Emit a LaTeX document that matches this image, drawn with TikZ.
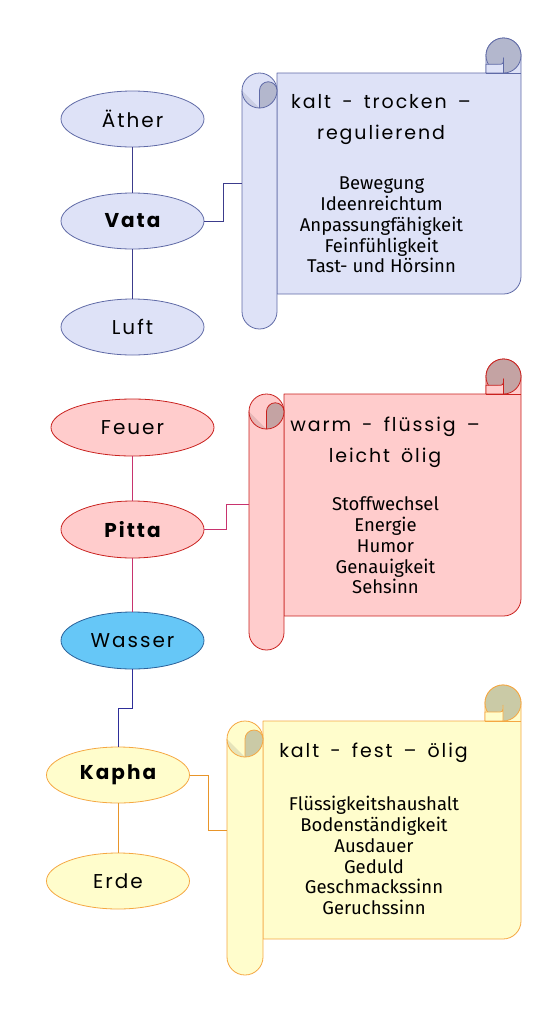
\documentclass[tikz,border=0pt]{standalone}
\usepackage{fontspec}
\setmainfont{Fira Sans}
\newfontfamily\handfont{Poppins}[LetterSpace=10,WordSpace=1.6]
\usetikzlibrary{shapes.geometric,calc}
\definecolor{vfill}{HTML}{DEE2F7}
\definecolor{vdraw}{HTML}{5F6AA6}
\definecolor{vline}{HTML}{3C3C8C}
\definecolor{vdark}{HTML}{B3B7CD}
\definecolor{vlight}{HTML}{CACEE4}
\definecolor{pfill}{HTML}{FFCCCC}
\definecolor{pdraw}{HTML}{C9211E}
\definecolor{pline}{HTML}{C8336E}
\definecolor{pdark}{HTML}{C4A3A3}
\definecolor{plight}{HTML}{E6B6B6}
\definecolor{wfill}{HTML}{66C7F7}
\definecolor{wdraw}{HTML}{2A6099}
\definecolor{wline}{HTML}{2E2E99}
\definecolor{kfill}{HTML}{FFFDCC}
\definecolor{kdraw}{HTML}{F5A742}
\definecolor{kline}{HTML}{E8952A}
\definecolor{kdark}{HTML}{CACAA6}
\definecolor{klight}{HTML}{E6E4BA}
\newcommand\scrollshape[6]{%
 \pgfmathsetmacro\sL{#1}\pgfmathsetmacro\sR{#2}\pgfmathsetmacro\sRt{#3}%
 \pgfmathsetmacro\sB{#4}\pgfmathsetmacro\sBl{#5}\pgfmathsetmacro\sr{#6}%
 \pgfmathsetmacro\sT{\sRt+2*\sr}%
 \pgfmathsetmacro\sLr{\sL+2*\sr}%
 \pgfmathsetmacro\sc{\sL+\sr}%
 \pgfmathsetmacro\sRc{\sR-\sr}%
 \pgfmathsetmacro\sRl{\sR-2*\sr}%
 \pgfmathsetmacro\sRy{\sRt+\sr}%
 \pgfmathsetmacro\sh{\sr/2}%
 % body
 \filldraw[fill=sf,draw=sd,scrl] ({\sLr},{\sT}) -- ({\sRl},{\sT}) -- ({\sRl},{\sRy})
   arc[start angle=180,end angle=360,radius=\sr] -- ({\sR},{\sB-\sr})
   arc[start angle=0,end angle=90,radius=\sr] -- ({\sLr},{\sB}) -- cycle;
 % right curl
 \filldraw[fill=sk,draw=sd,scrl] ({\sRc},{\sRy}) circle[radius=\sr];
 \filldraw[fill=sf,draw=sd,scrl] ({\sRl},{\sT}) -- ({\sRl},{\sRy+\sh})
   -- ({\sRc-\sr/3},{\sRy+\sh}) .. controls ({\sRc},{\sRy+\sh}) .. ({\sRc},{\sRy+\sr/8})
   -- ({\sRc},{\sT}) -- cycle;
 \draw[sd,scrl] ({\sRl},{\sT}) -- ({\sR},{\sT});
 % left roll
 \filldraw[fill=sf,draw=sd,scrl] ({\sL},{\sT+\sr}) arc[start angle=180,end angle=360,radius=\sr]
   -- ({\sLr},{\sBl-\sr}) arc[start angle=0,end angle=180,radius=\sr] -- cycle;
 \fill[sl] ({\sL},{\sT+\sr}) arc[start angle=180,end angle=90,radius=\sr] -- cycle;
 \draw[sd,scrl] ({\sL},{\sT+\sr}) arc[start angle=180,end angle=90,radius=\sr];
 \filldraw[fill=sk,draw=sd,scrl] ({\sc},{\sT+\sr}) arc[start angle=180,end angle=360,radius=\sh]
   arc[start angle=0,end angle=90,radius=\sr] -- cycle;
}
\tikzset{
 scrl/.style={line width=0.8pt,line join=round},
 ell/.style={ellipse,draw,line width=0.8pt,minimum width=143pt,minimum height=56pt,inner sep=0pt,
   font=\handfont\fontsize{20}{22}\selectfont},
 bold ell/.style={font=\handfont\bfseries\fontsize{20}{22}\selectfont},
 conn/.style={line width=1pt},
 hd/.style={align=center,inner sep=0pt,font=\handfont\fontsize{19}{31}\selectfont},
 bd/.style={align=center,inner sep=0pt,font=\fontsize{18.5}{20.8}\selectfont},
}
\begin{document}
\begin{tikzpicture}[x=1pt,y=-1pt]
\useasboundingbox (0,0) rectangle (559,1013);
% ---------- Vata ----------
\colorlet{sf}{vfill}\colorlet{sd}{vdraw}\colorlet{sk}{vdark}\colorlet{sl}{vlight}
\scrollshape{242}{521}{38}{294}{329}{17.5}
\coordinate (vs) at (242,183.5);
\node[bd] (vb) at (381.5,225) {Bewegung\\Ideenreichtum\\Anpassungfähigkeit\\Feinfühligkeit\\Tast- und Hörsinn};
\node[hd] (vh) at (381,120) {kalt - trocken –\\regulierend};
\node[ell,fill=vfill,draw=vdraw] (aether) at (132.5,119) {Äther};
\node[ell,bold ell,fill=vfill,draw=vdraw] (vata) at (132.5,221) {Vata};
\node[ell,fill=vfill,draw=vdraw] (luft) at (132.5,327) {Luft};
\draw[conn,vline] (aether) -- (vata);
\draw[conn,vline] (vata) -- (luft);
\draw[conn,vline] (vata.east) -| ($(vata.east)!.5!(vs)$) |- (vs);
% ---------- Pitta ----------
\colorlet{sf}{pfill}\colorlet{sd}{pdraw}\colorlet{sk}{pdark}\colorlet{sl}{plight}
\scrollshape{249}{521}{359}{616}{650}{17.5}
\coordinate (ps) at (249,504.5);
\node[hd] (ph) at (385,442.5) {warm - flüssig –\\leicht ölig};
\node[bd] (pb) at (385.5,545.5) {Stoffwechsel\\Energie\\Humor\\Genauigkeit\\Sehsinn};
\node[ell,fill=pfill,draw=pdraw,minimum width=163pt,minimum height=57pt] (feuer) at (132.5,427.5) {Feuer};
\node[ell,bold ell,fill=pfill,draw=pdraw,minimum height=57pt] (pitta) at (132.5,529.5) {Pitta};
\node[ell,fill=wfill,draw=wdraw,minimum height=57pt] (wasser) at (132.5,640.5) {Wasser};
\draw[conn,pline] (feuer) -- (pitta);
\draw[conn,pline] (pitta) -- (wasser);
\draw[conn,pline] (pitta.east) -| ($(pitta.east)!.5!(ps)$) |- (ps);
% ---------- Kapha ----------
\colorlet{sf}{kfill}\colorlet{sd}{kdraw}\colorlet{sk}{kdark}\colorlet{sl}{klight}
\scrollshape{227}{521}{685}{939}{975}{18}
\coordinate (ks) at (227,830.5);
\node[hd] (kh) at (373.5,753) {kalt - fest – ölig};
\node[bd] (kb) at (374,855.5) {Flüssigkeitshaushalt\\Bodenständigkeit\\Ausdauer\\Geduld\\Geschmackssinn\\Geruchssinn};
\node[ell,bold ell,fill=kfill,draw=kdraw] (kapha) at (118,775) {Kapha};
\node[ell,fill=kfill,draw=kdraw] (erde) at (118,881) {Erde};
\draw[conn,kline] (kapha) -- (erde);
\draw[conn,kline] (kapha.east) -| ($(kapha.east)!.5!(ks)$) |- (ks);
\draw[conn,wline] (wasser.south) |- ($(wasser.south)!.5!(kapha.north)$) -| (kapha.north);
\end{tikzpicture}
\end{document}
